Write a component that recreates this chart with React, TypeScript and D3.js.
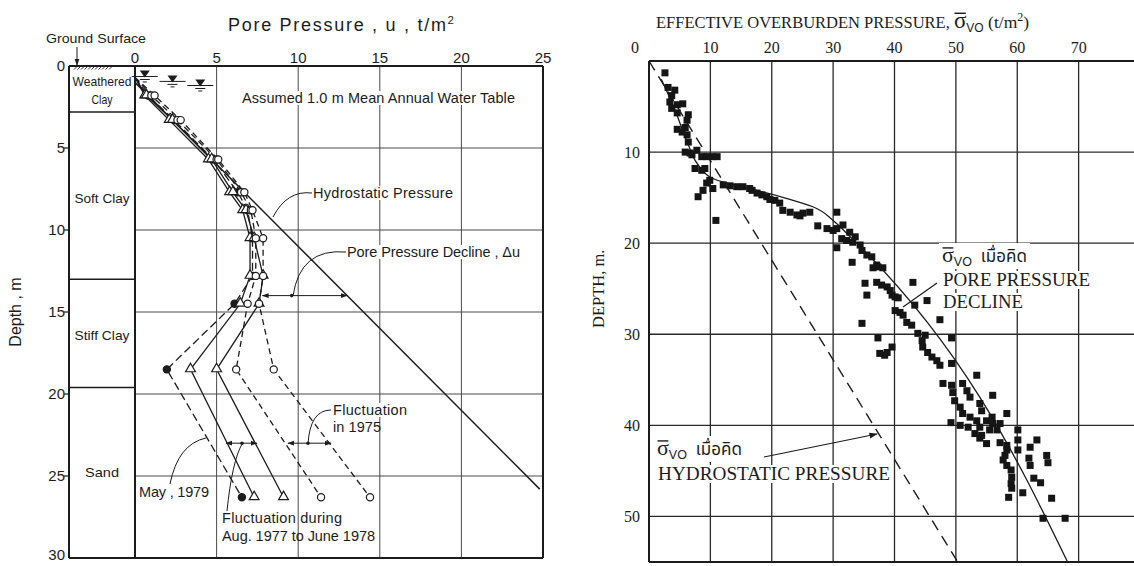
import React, { useEffect, useRef } from 'react';
import * as d3 from 'd3';

// ---------- Left panel data (pore pressure profiles) ----------
const uTicks = [0, 5, 10, 15, 20, 25];
const depthTicksL = [0, 5, 10, 15, 20, 25, 30];
const poreDepths = [0.7, 1.8, 3.3, 5.7, 7.7, 8.8, 10.5, 12.8, 14.5, 18.5, 26.3];
const may1979 = [0, 0.8, 2.4, 4.8, 6.3, 6.9, 7.2, 7.2, 6.1, 1.95, 6.55];
const fluct77a = [0, 0.6, 2.1, 4.5, 5.8, 6.6, 7.05, 7.05, 6.45, 3.4, 7.3];
const fluct77b = [0, 0.7, 2.3, 4.7, 6.0, 6.8, 7.3, 7.85, 7.6, 5.0, 9.1];
const fluct75a = [0, 1.0, 2.6, 5.0, 6.5, 7.1, 7.4, 7.4, 6.9, 6.2, 11.4];
const fluct75b = [0, 1.2, 2.8, 5.1, 6.7, 7.2, 7.85, 7.85, 7.6, 8.5, 14.4];
const hydroU = [0, 24.8];
const hydroDepth = [1, 25.8];
const layerTops = [2.8, 13, 19.6];
const layerLabels = ['Weathered', 'Clay', 'Soft Clay', 'Stiff Clay', 'Sand'];
const layerLabelDepths = [0.95, 2.0, 8.05, 16.4, 24.8];
const layerLabelWidths = [59, 21, 55, 55, 34];
const wtU = [0.6, 2.3, 4.0];
const wtDepth = [0.7, 1.0, 1.25];

// ---------- Right panel data (effective overburden pressure) ----------
const sigmaTicks = [0, 10, 20, 30, 40, 50, 60, 70];
const depthTicksR = [10, 20, 30, 40, 50];
const sigmaVals = [
  2.6, 3.1, 4.2, 3.7, 3.4, 4.6, 5.5, 3.7, 4.6, 6.4, 6.2, 4.6, 5.9, 5.4, 6.2, 6.4, 5.9, 6.7, 7.8, 7.0,
  8.6, 9.4, 10.3, 11.1, 7.5, 8.6, 9.1, 9.9, 9.4, 8.8, 8.0, 10.4, 10.9,
  12.1, 13.2, 14.3, 15.3, 16.4, 16.8, 17.6, 18.4, 19.2, 19.7, 20.5, 21.3, 21.8, 23.0, 24.1, 25.1, 26.2, 24.6,
  27.5, 29.0, 30.0, 30.6, 31.6, 32.7, 33.6, 34.4, 30.6, 30.6, 31.4, 32.2, 33.1, 35.2, 35.5, 34.7,
  33.2, 34.7, 35.5, 36.3, 37.1, 36.5, 37.3, 38.1, 37.1, 37.9, 38.8, 39.3, 39.6, 40.1, 43.0, 40.6, 40.1, 40.9,
  41.4, 45.3, 43.3, 42.0, 42.8, 47.4, 43.8, 45.0, 44.5, 37.3, 39.6, 38.8, 37.6, 38.4, 49.3, 44.6, 45.4, 46.1,
  46.9, 47.4, 49.3, 53.4, 47.9, 49.3, 49.5, 51.1, 51.8, 52.3, 56.0, 49.8, 50.7, 51.1, 52.3, 53.4, 53.9, 54.2,
  55.0, 55.9, 58.3, 52.0, 53.1, 53.9, 55.0, 55.5, 56.0, 56.7, 60.1, 63.2, 60.1, 58.3,
  49.2, 50.7, 53.9, 57.2, 57.2, 54.2,
  60.1, 58.3, 58.0, 57.7, 58.3, 59.0, 59.1, 59.0, 59.1, 58.6, 62.1, 61.9, 62.1, 64.8, 65.0, 62.7, 63.8, 60.9,
  65.6, 64.2, 67.8,
];
const depthVals = [
  1.3, 2.9, 3.2, 3.8, 4.5, 4.8, 4.7, 5.2, 5.7, 5.9, 6.5, 7.5, 7.3, 7.8, 8.1, 8.9, 10.0, 10.1, 9.8, 10.3,
  10.5, 10.5, 10.5, 10.5, 11.8, 12.0, 11.8, 13.1, 13.4, 14.2, 14.9, 14.0, 17.5,
  13.6, 13.7, 13.8, 13.8, 14.0, 14.2, 14.5, 14.7, 14.9, 15.2, 15.3, 15.6, 16.4, 16.6, 16.9, 16.7, 16.6, 17.0,
  18.1, 18.4, 18.6, 18.4, 18.0, 18.8, 19.3, 20.2, 16.6, 20.5, 19.5, 19.7, 22.1, 24.4, 25.7, 28.8,
  19.9, 20.8, 21.3, 21.5, 22.4, 22.7, 22.6, 22.7, 24.3, 24.6, 24.8, 25.2, 25.7, 25.9, 24.3, 26.0, 27.4, 27.6,
  27.9, 26.3, 26.8, 28.7, 29.0, 28.4, 29.9, 30.1, 30.7, 30.4, 31.4, 32.0, 32.1, 32.3, 30.4, 31.4, 32.0, 32.5,
  32.9, 33.4, 33.2, 34.5, 35.4, 35.6, 36.4, 35.4, 36.2, 36.9, 36.7, 37.3, 38.0, 38.7, 39.1, 39.5, 37.6, 38.4,
  39.5, 39.1, 38.7, 40.2, 40.9, 41.4, 42.0, 40.5, 39.8, 40.5, 40.5, 41.6, 41.6, 42.2,
  39.7, 40.0, 40.2, 39.8, 41.9, 41.1,
  42.7, 42.7, 43.3, 43.8, 44.4, 44.9, 45.7, 46.4, 46.9, 47.9, 42.4, 43.6, 44.4, 43.3, 44.1, 45.8, 46.3, 47.4,
  48.0, 50.2, 50.2,
];
const fitSigma = [2.0, 4.0, 6.3, 7.8, 10.4, 12.7, 17.6, 22.5, 26.7, 30.0, 32.2, 68.2];
const fitDepth = [2.0, 5.0, 9.0, 11.2, 12.9, 13.4, 14.2, 15.1, 16.0, 17.5, 18.9, 55];
const hydroSigma = [0, 50.3];
const hydroSigmaDepth = [0, 55];

const W = 1134;
const H = 566;
const ink = '#1c1c1c';
const gridCol = '#4a4a4a';
const sans = "'Liberation Sans', Arial, sans-serif";
const serif = "'Liberation Serif', 'Times New Roman', serif";
const thai = "'Noto Sans Thai', 'Noto Serif Thai', Loma, Garuda, 'Tlwg Typo', 'DejaVu Sans', sans-serif";
const THAI_WORD = '\u0e40\u0e21\u0e37\u0e48\u0e2d\u0e04\u0e34\u0e14';

type Part = { text: string; size: number; font: string; dy?: number };
type RichOpts = {
  overlineIdx?: number; overlineSize?: number; mask?: boolean; pad?: number;
  textLength?: number; adjust?: string; anchor?: string;
};

export default function App() {
  const ref = useRef<SVGSVGElement>(null);

  useEffect(() => {
    const svg = d3.select(ref.current as SVGSVGElement);
    svg.selectAll('*').remove();
    svg.append('rect').attr('width', W).attr('height', H).attr('fill', '#fff');

    const defs = svg.append('defs');
    defs.append('marker').attr('id', 'ah').attr('viewBox', '0 0 10 10').attr('refX', 9).attr('refY', 5)
      .attr('markerWidth', 7).attr('markerHeight', 7).attr('orient', 'auto-start-reverse')
      .append('path').attr('d', 'M0,1.5 L10,5 L0,8.5 Z').attr('fill', ink);

    // one <text> per line, with tspans for size / baseline changes
    const rich = (g: any, x: number, y: number, parts: Part[], o: RichOpts = {}) => {
      const grp = g.append('g');
      const t = grp.append('text').attr('x', x).attr('y', y).attr('fill', ink)
        .style('white-space', 'pre').attr('text-anchor', o.anchor || 'start');
      if (o.textLength) t.attr('textLength', o.textLength).attr('lengthAdjust', o.adjust || 'spacing');
      let cur = 0;
      parts.forEach((p) => {
        const dy = p.dy || 0;
        t.append('tspan').attr('dy', dy - cur).attr('font-size', p.size).attr('font-family', p.font).text(p.text);
        cur = dy;
      });
      const node = t.node() as SVGTextElement;
      if (o.overlineIdx !== undefined) {
        const ext = node.getExtentOfChar(o.overlineIdx);
        const oy = y - (o.overlineSize || 22) * 0.64;
        grp.append('line').attr('x1', ext.x + 0.5).attr('x2', ext.x + ext.width - 0.5)
          .attr('y1', oy).attr('y2', oy).attr('stroke', ink).attr('stroke-width', 1.4);
      }
      if (o.mask) {
        const bb = node.getBBox();
        const pad = o.pad ?? 2;
        grp.insert('rect', ':first-child').attr('x', bb.x - pad).attr('y', bb.y + 1)
          .attr('width', bb.width + 2 * pad).attr('height', bb.height - 2).attr('fill', '#fff');
      }
      return grp;
    };

    // ================= LEFT PANEL =================
    const xL = d3.scaleLinear().domain([0, 25]).range([135, 543]);
    const yL = d3.scaleLinear().domain([0, 30]).range([66, 558]);
    const colLeft = 69;
    const L = svg.append('g');
    const fs = 14.5;

    // grid
    L.selectAll('line.gv').data(uTicks.filter((t) => t > 0 && t < 25)).join('line')
      .attr('x1', (d) => xL(d)).attr('x2', (d) => xL(d)).attr('y1', yL(0)).attr('y2', yL(30))
      .attr('stroke', gridCol).attr('stroke-width', 1);
    L.selectAll('line.gh').data(depthTicksL.filter((t) => t > 0 && t < 30)).join('line')
      .attr('x1', xL(0)).attr('x2', xL(25)).attr('y1', (d) => yL(d)).attr('y2', (d) => yL(d))
      .attr('stroke', gridCol).attr('stroke-width', 1);

    // soil column layers
    L.selectAll('line.layer').data(layerTops).join('line')
      .attr('x1', colLeft).attr('x2', xL(0)).attr('y1', (d) => yL(d)).attr('y2', (d) => yL(d))
      .attr('stroke', ink).attr('stroke-width', 1.5);
    const lx = (colLeft + xL(0)) / 2;
    layerLabels.forEach((s, i) => {
      L.append('text').attr('x', lx).attr('y', yL(layerLabelDepths[i])).attr('dy', '0.35em')
        .attr('text-anchor', 'middle').attr('font-family', sans).attr('font-size', 13.5)
        .attr('textLength', layerLabelWidths[i]).attr('lengthAdjust', 'spacingAndGlyphs')
        .attr('fill', ink).text(s);
    });
    // ground surface hatch
    for (let hx = 74; hx < 110; hx += 3.5) {
      L.append('line').attr('x1', hx).attr('y1', yL(0) + 3.5).attr('x2', hx + 3).attr('y2', yL(0) + 0.5)
        .attr('stroke', ink).attr('stroke-width', 0.9);
    }

    // borders
    const bw = 2;
    L.append('line').attr('x1', colLeft).attr('x2', xL(25)).attr('y1', yL(0)).attr('y2', yL(0)).attr('stroke', ink).attr('stroke-width', bw);
    L.append('line').attr('x1', colLeft).attr('x2', xL(25)).attr('y1', yL(30)).attr('y2', yL(30)).attr('stroke', ink).attr('stroke-width', bw);
    [colLeft, xL(0), xL(25)].forEach((x) => {
      L.append('line').attr('x1', x).attr('x2', x).attr('y1', yL(0)).attr('y2', yL(30)).attr('stroke', ink).attr('stroke-width', bw);
    });

    // axes labels
    L.selectAll('text.ut').data(uTicks).join('text')
      .attr('x', (d) => xL(d)).attr('y', 63).attr('text-anchor', 'middle')
      .attr('font-family', sans).attr('font-size', 15).attr('fill', ink).text((d) => String(d));
    L.selectAll('text.dt').data(depthTicksL).join('text')
      .attr('x', colLeft - 4).attr('y', (d) => yL(d)).attr('dy', (d) => (d === 30 ? '0.15em' : '0.35em')).attr('text-anchor', 'end')
      .attr('font-family', sans).attr('font-size', 15).attr('fill', ink).text((d) => String(d));
    L.selectAll('line.dtk').data(depthTicksL.filter((d) => d > 0 && d < 30)).join('line')
      .attr('x1', colLeft - 5).attr('x2', colLeft).attr('y1', (d) => yL(d)).attr('y2', (d) => yL(d))
      .attr('stroke', ink).attr('stroke-width', 1.2);

    rich(L, 228, 31, [
      { text: 'Pore Pressure , u , t/m', size: 18, font: sans },
      { text: '2', size: 11.5, font: sans, dy: -7 },
    ], { textLength: 226 });
    L.append('text').attr('transform', `translate(21,${yL(15)}) rotate(-90)`).attr('text-anchor', 'middle')
      .attr('font-family', sans).attr('font-size', 16).attr('fill', ink).text('Depth , m');
    L.append('text').attr('x', 46).attr('y', 43).attr('font-family', sans)
      .attr('font-size', 13.5).attr('textLength', 100).attr('lengthAdjust', 'spacingAndGlyphs').attr('fill', ink).text('Ground Surface');
    L.append('line').attr('x1', 77).attr('x2', 77).attr('y1', 47).attr('y2', yL(0) - 1)
      .attr('stroke', ink).attr('stroke-width', 1).attr('marker-end', 'url(#ah)');

    // water table symbols
    wtU.forEach((u, i) => {
      const cx = xL(u);
      const cy = yL(wtDepth[i]);
      L.append('path').attr('d', `M${cx - 5},${cy - 7} L${cx + 5},${cy - 7} L${cx},${cy} Z`).attr('fill', ink);
      L.append('line').attr('x1', cx - 13).attr('x2', cx + 13).attr('y1', cy - 1).attr('y2', cy - 1).attr('stroke', ink).attr('stroke-width', 1);
      L.append('line').attr('x1', cx - 5).attr('x2', cx + 5).attr('y1', cy + 2).attr('y2', cy + 2).attr('stroke', ink).attr('stroke-width', 1);
      L.append('line').attr('x1', cx - 2).attr('x2', cx + 2).attr('y1', cy + 4.5).attr('y2', cy + 4.5).attr('stroke', ink).attr('stroke-width', 1);
    });

    rich(L, 242, 103, [{ text: 'Assumed 1.0 m Mean Annual Water Table', size: fs, font: sans }], { mask: true, pad: 3, textLength: 273 });

    // hydrostatic line
    const hydLine = d3.line<number>().x((d) => xL(d)).y((_, i) => yL(hydroDepth[i]));
    L.append('path').attr('d', hydLine(hydroU) as string).attr('fill', 'none').attr('stroke', ink).attr('stroke-width', 1.5);

    // profiles
    const profiles = [
      { vals: may1979, dash: '8,4', marker: 'filled' },
      { vals: fluct77a, dash: null, marker: 'tri' },
      { vals: fluct77b, dash: null, marker: 'tri' },
      { vals: fluct75a, dash: '6,4', marker: 'circ' },
      { vals: fluct75b, dash: '6,4', marker: 'circ' },
    ];
    profiles.forEach((p) => {
      const ln = d3.line<number>().x((d) => xL(d)).y((_, i) => yL(poreDepths[i]));
      const path = L.append('path').attr('d', ln(p.vals) as string).attr('fill', 'none')
        .attr('stroke', ink).attr('stroke-width', 1.3);
      if (p.dash) path.attr('stroke-dasharray', p.dash);
    });
    const triSym = d3.symbol().type(d3.symbolTriangle).size(42);
    profiles.forEach((p) => {
      p.vals.forEach((v, i) => {
        if (i === 0) return;
        const cx = xL(v);
        const cy = yL(poreDepths[i]);
        if (p.marker === 'tri') {
          L.append('path').attr('d', triSym() as string).attr('transform', `translate(${cx},${cy - 0.5})`)
            .attr('fill', '#fff').attr('stroke', ink).attr('stroke-width', 1.2);
        } else {
          L.append('circle').attr('cx', cx).attr('cy', cy).attr('r', 3.6)
            .attr('fill', p.marker === 'filled' ? ink : '#fff').attr('stroke', ink).attr('stroke-width', 1.2);
        }
      });
    });

    // annotations left
    const dblArrow = (x1: number, x2: number, y: number, dotX: number) => {
      L.append('line').attr('x1', dotX).attr('x2', x1).attr('y1', y).attr('y2', y).attr('stroke', ink).attr('stroke-width', 1).attr('marker-end', 'url(#ah)');
      L.append('line').attr('x1', dotX).attr('x2', x2).attr('y1', y).attr('y2', y).attr('stroke', ink).attr('stroke-width', 1).attr('marker-end', 'url(#ah)');
      L.append('circle').attr('cx', dotX).attr('cy', y).attr('r', 1.8).attr('fill', ink);
    };
    const leader = (d: string) => L.append('path').attr('d', d).attr('fill', 'none').attr('stroke', ink).attr('stroke-width', 1);

    rich(L, 313, 198, [{ text: 'Hydrostatic Pressure', size: fs, font: sans }], { mask: true, textLength: 140 });
    leader('M312,193 Q287,190 273,217');

    rich(L, 347, 257, [{ text: 'Pore Pressure Decline , \u0394u', size: fs, font: sans }], { mask: true, textLength: 173 });
    leader('M346,252 Q300,248 293,296');
    dblArrow(xL(7.8), xL(13.0), yL(14.0), xL(9.6));

    rich(L, 333, 415, [{ text: 'Fluctuation', size: fs, font: sans }], { mask: true, pad: 1, textLength: 74 });
    rich(L, 333, 432, [{ text: 'in 1975', size: fs, font: sans }], { textLength: 48 });
    leader('M331,410 Q310,410 308,444');
    dblArrow(288, 331, yL(23.0), 308);
    dblArrow(226, 257, yL(23.0), 242);

    rich(L, 139, 497, [{ text: 'May , 1979', size: fs, font: sans }], { mask: true, pad: 1, textLength: 70 });
    leader('M170,484 Q178,444 206,438');

    rich(L, 222, 523, [{ text: 'Fluctuation during', size: fs, font: sans }], { textLength: 120 });
    rich(L, 222, 541, [{ text: 'Aug. 1977 to June 1978', size: fs, font: sans }], { textLength: 153 });
    leader('M227,511 Q232,462 242,444');

    // ================= RIGHT PANEL =================
    const xR = d3.scaleLinear().domain([0, 80]).range([649, 1140]);
    const yR = d3.scaleLinear().domain([0, 55]).range([61, 562]);
    const R = svg.append('g');

    R.selectAll('line.gv').data(sigmaTicks.filter((t) => t > 0)).join('line')
      .attr('x1', (d) => xR(d)).attr('x2', (d) => xR(d)).attr('y1', yR(0)).attr('y2', yR(55))
      .attr('stroke', '#2a2a2a').attr('stroke-width', 1.3);
    R.selectAll('line.gh').data(depthTicksR).join('line')
      .attr('x1', xR(0)).attr('x2', W).attr('y1', (d) => yR(d)).attr('y2', (d) => yR(d))
      .attr('stroke', '#2a2a2a').attr('stroke-width', 1.3);
    R.append('line').attr('x1', xR(0)).attr('x2', W).attr('y1', yR(0)).attr('y2', yR(0)).attr('stroke', ink).attr('stroke-width', 2);
    R.append('line').attr('x1', xR(0)).attr('x2', W).attr('y1', yR(55)).attr('y2', yR(55)).attr('stroke', ink).attr('stroke-width', 2);
    R.append('line').attr('x1', xR(0)).attr('x2', xR(0)).attr('y1', yR(0)).attr('y2', yR(55)).attr('stroke', ink).attr('stroke-width', 2);

    R.selectAll('text.st').data(sigmaTicks).join('text')
      .attr('x', (d) => (d === 0 ? xR(d) - 14 : xR(d))).attr('y', 53).attr('text-anchor', 'middle')
      .attr('font-family', serif).attr('font-size', 16).attr('fill', ink).text((d) => String(d));
    R.selectAll('text.dr').data(depthTicksR).join('text')
      .attr('x', 640).attr('y', (d) => yR(d)).attr('dy', '0.35em').attr('text-anchor', 'end')
      .attr('font-family', serif).attr('font-size', 16).attr('fill', ink).text((d) => String(d));
    R.append('text').attr('transform', `translate(604,${yR(25)}) rotate(-90)`).attr('text-anchor', 'middle')
      .attr('font-family', serif).attr('font-size', 16.5).attr('fill', ink).text('DEPTH, m.');

    // title
    rich(R, 656, 28, [
      { text: 'EFFECTIVE OVERBURDEN PRESSURE, ', size: 16.5, font: serif },
      { text: '\u03c3', size: 23, font: serif },
      { text: 'VO', size: 12, font: sans, dy: 4 },
      { text: ' (t/m', size: 17.5, font: serif },
      { text: '2', size: 12, font: serif, dy: -7 },
      { text: ')', size: 17.5, font: serif },
    ], { overlineIdx: 31, overlineSize: 23 });

    // dashed hydrostatic line and fitted curve
    const hl = d3.line<number>().x((d) => xR(d)).y((_, i) => yR(hydroSigmaDepth[i]));
    R.append('path').attr('d', hl(hydroSigma) as string).attr('fill', 'none').attr('stroke', ink)
      .attr('stroke-width', 1.4).attr('stroke-dasharray', '11,7');
    const fl = d3.line<number>().x((d) => xR(d)).y((_, i) => yR(fitDepth[i])).curve(d3.curveMonotoneY);
    R.append('path').attr('d', fl(fitSigma) as string).attr('fill', 'none').attr('stroke', ink).attr('stroke-width', 1.3);

    // scatter
    R.selectAll('rect.pt').data(sigmaVals).join('rect')
      .attr('x', (d) => xR(d) - 3.5).attr('y', (_, i) => yR(depthVals[i]) - 3.5)
      .attr('width', 7).attr('height', 7).attr('fill', '#151515');

    // annotation: pore pressure decline
    const sigmaLine = (x: number, y: number) => rich(R, x, y, [
      { text: '\u03c3', size: 22, font: serif },
      { text: 'VO', size: 12.5, font: sans, dy: 4 },
      { text: '  ' + THAI_WORD, size: 17, font: thai },
    ], { overlineIdx: 0, overlineSize: 22, mask: true, pad: 3 });

    sigmaLine(942, 262);
    rich(R, 943, 286, [{ text: 'PORE PRESSURE', size: 18.5, font: serif }], { mask: true, textLength: 147, adjust: 'spacingAndGlyphs' });
    rich(R, 943, 308, [{ text: 'DECLINE', size: 18.5, font: serif }], { mask: true, textLength: 80, adjust: 'spacingAndGlyphs' });
    R.append('line').attr('x1', 937).attr('y1', 283).attr('x2', 903).attr('y2', 307).attr('stroke', ink).attr('stroke-width', 1.2);

    // annotation: hydrostatic pressure
    sigmaLine(657, 455);
    rich(R, 658, 480, [{ text: 'HYDROSTATIC PRESSURE', size: 18.5, font: serif }], { mask: true, textLength: 232, adjust: 'spacingAndGlyphs' });
    R.append('line').attr('x1', 764).attr('y1', 457).attr('x2', 877).attr('y2', 434)
      .attr('stroke', ink).attr('stroke-width', 1.2).attr('marker-end', 'url(#ah)');
  }, []);

  return (
    <svg
      ref={ref}
      width={W}
      height={H}
      style={{ position: 'absolute', left: 0, top: 0, display: 'block' }}
    />
  );
}
